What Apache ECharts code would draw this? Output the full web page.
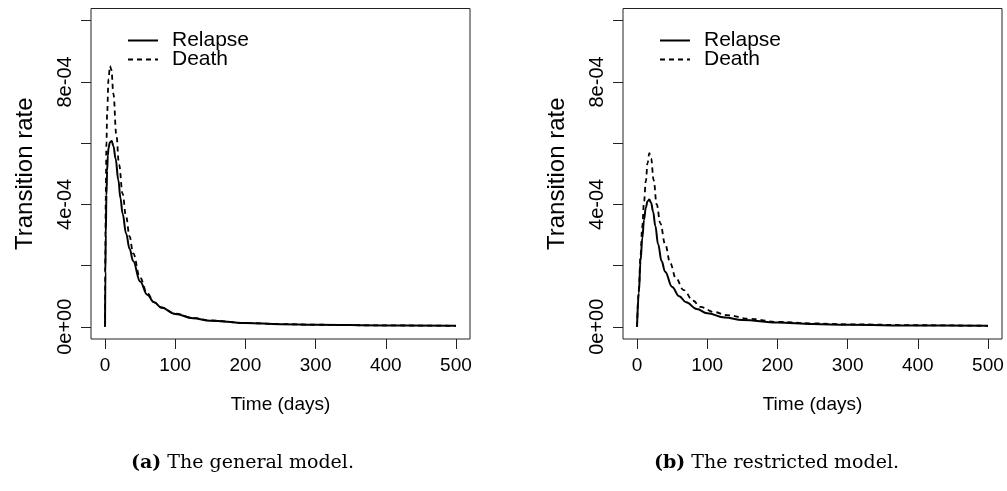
<!DOCTYPE html>
<html>
<head>
<meta charset="utf-8">
<script src="https://cdn.jsdelivr.net/npm/echarts@6/dist/echarts.min.js"></script>
<style>html,body{margin:0;padding:0;background:#fff}#c{width:1007px;height:491px}</style>
</head>
<body>
<div id="c"></div>
<script>
// ---- data ----
var xTicks = [0, 100, 200, 300, 400, 500];
var yTicks = [0, 0.0002, 0.0004, 0.0006, 0.0008, 0.001];
var yLabelValues = [0, 0.0004, 0.0008];
var yLabelTexts = ['0e+00', '4e-04', '8e-04'];
var seriesNames = ['Relapse', 'Death'];
var captions = [['(a)', 'The general model.'], ['(b)', 'The restricted model.']];

// panel (a): general model (values in units of 1e-3, scaled below)
var relapseA_t = [0, 0.5, 1, 2, 3, 4, 5, 7, 9.5, 12, 15, 19, 22, 25, 30, 35, 40, 50, 60, 70, 80, 100, 125, 150, 200, 250, 300, 400, 500];
var relapseA_v = [0, 0.18, 0.30, 0.43, 0.51, 0.56, 0.585, 0.603, 0.607, 0.59, 0.55, 0.479, 0.42, 0.37, 0.305, 0.255, 0.215, 0.148, 0.105, 0.08, 0.063, 0.042, 0.028, 0.02, 0.012, 0.0085, 0.0065, 0.0042, 0.003];
var deathA_t = [0, 0.5, 1, 2, 3, 5, 7, 9, 12, 16, 20, 25, 30, 35, 40, 50, 60, 70, 80, 100, 125, 150, 200, 250, 300, 400, 500];
var deathA_v = [0, 0.25, 0.42, 0.60, 0.70, 0.81, 0.852, 0.84, 0.76, 0.63, 0.53, 0.435, 0.36, 0.295, 0.24, 0.16, 0.11, 0.08, 0.063, 0.043, 0.029, 0.0205, 0.0122, 0.0087, 0.0066, 0.0043, 0.003];

// panel (b): restricted model
var relapseB_t = [0, 2.5, 5, 7.5, 10, 12.5, 15, 17.5, 20, 23, 26, 30, 35, 40, 50, 60, 70, 85, 100, 125, 150, 200, 250, 300, 400, 500];
var relapseB_v = [0, 0.11, 0.215, 0.29, 0.35, 0.39, 0.41, 0.416, 0.405, 0.375, 0.33, 0.27, 0.215, 0.18, 0.13, 0.1, 0.08, 0.058, 0.044, 0.03, 0.022, 0.014, 0.009, 0.0065, 0.004, 0.003];
var deathB_t = [0, 2.5, 5, 7.5, 10, 12.5, 15, 17.5, 20, 23.7, 28, 33.2, 40, 47.5, 55, 66.4, 80, 90, 110, 128, 160, 199, 250, 300, 400, 500];
var deathB_v = [0, 0.12, 0.235, 0.33, 0.41, 0.475, 0.535, 0.567, 0.55, 0.479, 0.40, 0.338, 0.27, 0.207, 0.16, 0.12, 0.085, 0.065, 0.048, 0.038, 0.026, 0.016, 0.011, 0.008, 0.005, 0.003];

var UNIT = 1e-3;
function pairs(t, v) { return t.map(function (x, i) { return [x, v[i] * UNIT]; }); }

var panels = [
  { left: 91, rel: pairs(relapseA_t, relapseA_v), dea: pairs(deathA_t, deathA_v), legLeft: 127, capLeft: 131 },
  { left: 623, rel: pairs(relapseB_t, relapseB_v), dea: pairs(deathB_t, deathB_v), legLeft: 659, capLeft: 654 }
];

var FONT = '"Liberation Sans", Arial, sans-serif';
var SERIF = '"DejaVu Serif", "Liberation Serif", serif';
var option = { animation: false, grid: [], xAxis: [], yAxis: [], series: [], legend: [], title: [] };

panels.forEach(function (p, k) {
  option.grid.push({ left: p.left, top: 8.5, width: 379, height: 330.5, show: true, borderColor: '#222', borderWidth: 1, backgroundColor: 'transparent' });
  option.xAxis.push({
    type: 'value', gridIndex: k, min: -20, max: 520, position: 'bottom',
    name: 'Time (days)', nameLocation: 'middle', nameGap: 56,
    nameTextStyle: { fontFamily: FONT, fontSize: 19, color: '#000' },
    axisLine: { show: false, onZero: false },
    axisTick: { show: true, inside: false, customValues: xTicks, length: 10, lineStyle: { color: '#222' } },
    axisLabel: { customValues: xTicks, fontFamily: FONT, fontSize: 19, color: '#000', margin: 17 },
    splitLine: { show: false }
  });
  option.yAxis.push({
    type: 'value', gridIndex: k, min: -0.00004, max: 0.00104, position: 'left',
    name: 'Transition rate', nameLocation: 'middle', nameGap: 54,
    nameTextStyle: { fontFamily: FONT, fontSize: 24, color: '#000' },
    axisLine: { show: false, onZero: false },
    axisTick: { show: true, inside: false, customValues: yTicks, length: 10, lineStyle: { color: '#222' } },
    axisLabel: {
      customValues: yLabelValues, rotate: 90, fontFamily: FONT, fontSize: 20, color: '#000', margin: 16,
      formatter: function (v) {
        for (var i = 0; i < yLabelValues.length; i++) if (Math.abs(v - yLabelValues[i]) < 1e-9) return yLabelTexts[i];
        return '';
      }
    },
    splitLine: { show: false }
  });
  option.series.push({
    name: seriesNames[0], type: 'line', xAxisIndex: k, yAxisIndex: k, data: p.rel,
    symbol: 'none', smooth: 0.4, smoothMonotone: 'x',
    lineStyle: { color: '#000', width: 2, type: 'solid' }, itemStyle: { color: '#000' }
  });
  option.series.push({
    name: seriesNames[1], type: 'line', xAxisIndex: k, yAxisIndex: k, data: p.dea,
    symbol: 'none', smooth: 0.4, smoothMonotone: 'x',
    lineStyle: { color: '#000', width: 1.8, type: [5, 4] }, itemStyle: { color: '#000' }
  });
  option.legend.push({
    orient: 'vertical', left: p.legLeft, top: 30, padding: 0, itemWidth: 30, itemHeight: 10, itemGap: -2,
    selectedMode: false, data: seriesNames,
    itemStyle: { opacity: 0 },
    textStyle: { fontFamily: FONT, fontSize: 21, color: '#000', padding: [0, 0, 0, 9] }
  });
  option.title.push({
    left: p.capLeft, top: 454, padding: 0,
    text: '{b|' + captions[k][0] + '} ' + captions[k][1],
    textStyle: {
      fontFamily: SERIF, fontSize: 19, fontWeight: 'normal', color: '#000',
      rich: { b: { fontFamily: SERIF, fontSize: 19, fontWeight: 'bold', color: '#000' } }
    }
  });
});

var chart = echarts.init(document.getElementById('c'), null, { renderer: 'canvas' });
chart.setOption(option);
</script>
</body>
</html>
